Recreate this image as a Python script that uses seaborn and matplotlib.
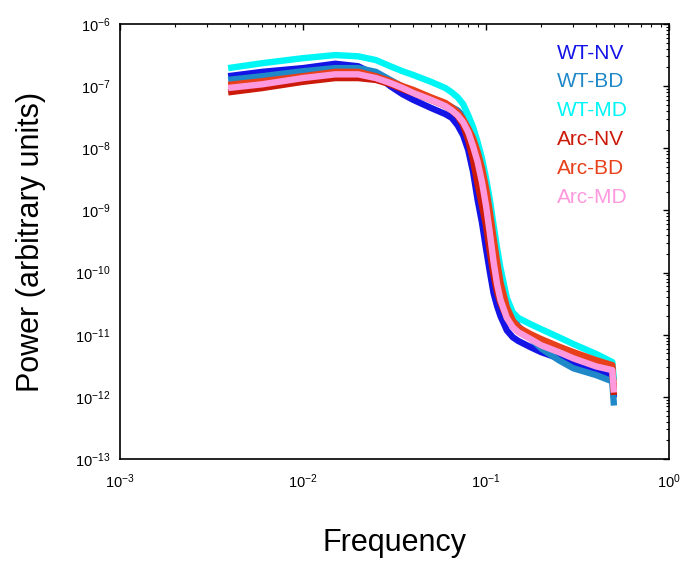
import numpy as np
import pandas as pd
import matplotlib
matplotlib.use("Agg")
import matplotlib.pyplot as plt
import matplotlib.ticker as mticker
import seaborn as sns

# ---- data (power given as log10 values) ----
freq = [0.0039, 0.006, 0.01, 0.015, 0.02, 0.025, 0.03, 0.035, 0.04, 0.05, 0.06, 0.065,
        0.07, 0.075, 0.08, 0.085, 0.09, 0.095, 0.1, 0.105, 0.11, 0.115, 0.12, 0.13,
        0.14, 0.15, 0.175, 0.2, 0.25, 0.3, 0.4, 0.49, 0.5]

log_wt_nv = [-6.84, -6.77, -6.71, -6.64, -6.68, -6.82, -7.00, -7.13, -7.22, -7.35, -7.45, -7.51,
             -7.63, -7.79, -8.03, -8.38, -8.83, -9.19, -9.61, -9.99, -10.33, -10.54, -10.70, -10.93,
             -11.04, -11.10, -11.20, -11.28, -11.38, -11.44, -11.57, -11.65, -12.01]
log_wt_bd = [-6.90, -6.84, -6.76, -6.71, -6.71, -6.77, -6.90, -7.01, -7.10, -7.21, -7.29, -7.34,
             -7.39, -7.48, -7.63, -7.80, -8.03, -8.27, -8.54, -8.92, -9.35, -9.77, -10.09, -10.53,
             -10.73, -10.86, -11.06, -11.22, -11.41, -11.54, -11.65, -11.75, -12.14]
log_wt_md = [-6.71, -6.63, -6.55, -6.50, -6.52, -6.58, -6.68, -6.76, -6.82, -6.93, -7.03, -7.10,
             -7.18, -7.29, -7.47, -7.66, -7.90, -8.16, -8.48, -8.83, -9.24, -9.61, -9.93, -10.41,
             -10.64, -10.73, -10.83, -10.91, -11.04, -11.15, -11.31, -11.44, -11.73]
log_arc_nv = [-7.10, -7.03, -6.93, -6.87, -6.87, -6.90, -6.97, -7.05, -7.11, -7.22, -7.32, -7.39,
              -7.48, -7.63, -7.87, -8.19, -8.58, -8.92, -9.24, -9.67, -10.04, -10.32, -10.49, -10.73,
              -10.86, -10.94, -11.06, -11.14, -11.25, -11.35, -11.48, -11.54, -11.97]
log_arc_bd = [-6.98, -6.92, -6.84, -6.77, -6.77, -6.84, -6.92, -7.00, -7.06, -7.18, -7.27, -7.34,
              -7.42, -7.53, -7.68, -7.84, -8.06, -8.32, -8.64, -9.03, -9.45, -9.83, -10.16, -10.56,
              -10.77, -10.88, -10.99, -11.07, -11.19, -11.28, -11.41, -11.49, -11.93]
log_arc_md = [-7.03, -6.97, -6.87, -6.81, -6.81, -6.87, -6.95, -7.03, -7.11, -7.22, -7.32, -7.39,
              -7.47, -7.58, -7.74, -7.97, -8.22, -8.54, -8.92, -9.37, -9.83, -10.19, -10.44, -10.73,
              -10.88, -10.96, -11.07, -11.17, -11.28, -11.38, -11.51, -11.57, -11.93]

groups = ["WT-NV", "WT-BD", "WT-MD", "Arc-NV", "Arc-BD", "Arc-MD"]
colors = ["#1414E6", "#1E88C8", "#00F5F5", "#CC1A0A", "#E8401A", "#FF99DD"]
series = [log_wt_nv, log_wt_bd, log_wt_md, log_arc_nv, log_arc_bd, log_arc_md]

df = pd.concat([pd.DataFrame({"Frequency": freq,
                              "Power": np.power(10.0, np.array(s)),
                              "group": g})
                for g, s in zip(groups, series)], ignore_index=True)

# ---- style ----
sns.set_style("white")
plt.rcParams["font.family"] = ["Liberation Sans", "DejaVu Sans"]
plt.rcParams["mathtext.fontset"] = "custom"
plt.rcParams["mathtext.rm"] = "Liberation Sans"
plt.rcParams["mathtext.it"] = "Liberation Sans:italic"
plt.rcParams["mathtext.bf"] = "Liberation Sans:bold"
for k in ["text.color", "axes.labelcolor", "xtick.color", "ytick.color", "axes.edgecolor"]:
    plt.rcParams[k] = "black"

fig = plt.figure(figsize=(6.83, 5.61), dpi=100)
ax = fig.add_axes([120 / 683, 1 - 459 / 561, 549 / 683, 435 / 561])

sns.lineplot(data=df, x="Frequency", y="Power", hue="group", hue_order=groups,
             palette=dict(zip(groups, colors)), estimator=None, sort=False,
             linewidth=4.6, ax=ax, legend=True)
for ln in ax.lines:
    ln.set_solid_capstyle("butt")
    ln.set_solid_joinstyle("round")

ax.set_xscale("log")
ax.set_yscale("log")
ax.set_xlim(1e-3, 1)
ax.set_ylim(1e-13, 1e-6)

ax.xaxis.set_major_locator(mticker.LogLocator(base=10, numticks=20))
ax.yaxis.set_major_locator(mticker.LogLocator(base=10, numticks=20))
ax.xaxis.set_minor_locator(mticker.LogLocator(base=10, subs=np.arange(2, 10), numticks=100))
ax.yaxis.set_minor_locator(mticker.LogLocator(base=10, subs=np.arange(2, 10), numticks=100))
ax.xaxis.set_minor_formatter(mticker.NullFormatter())
ax.yaxis.set_minor_formatter(mticker.NullFormatter())

ax.tick_params(which="both", direction="in", top=True, right=True, colors="black")
ax.tick_params(which="major", length=4, width=1, labelsize=10.5)
ax.tick_params(which="minor", length=2.5, width=0.8)
ax.tick_params(axis="x", which="major", pad=10)
ax.tick_params(axis="y", which="major", pad=7)
for sp in ax.spines.values():
    sp.set_visible(True)
    sp.set_color("black")
    sp.set_linewidth(1.2)

ax.set_xlabel("Frequency", fontsize=22, labelpad=26, color="black")
ax.set_ylabel("Power (arbitrary units)", fontsize=22, labelpad=21, color="black")

old = ax.get_legend()
if old is not None:
    old.remove()
leg = ax.legend(handles=ax.lines[:6], labels=groups, loc="upper left",
                bbox_to_anchor=(0.796, 0.955), frameon=False, fontsize=15,
                handlelength=0, handletextpad=0, labelspacing=0.47,
                borderaxespad=0, borderpad=0)
for h in leg.legend_handles:
    h.set_visible(False)
for t, c in zip(leg.get_texts(), colors):
    t.set_color(c)

fig.savefig("out.png", dpi=100, facecolor="white")
